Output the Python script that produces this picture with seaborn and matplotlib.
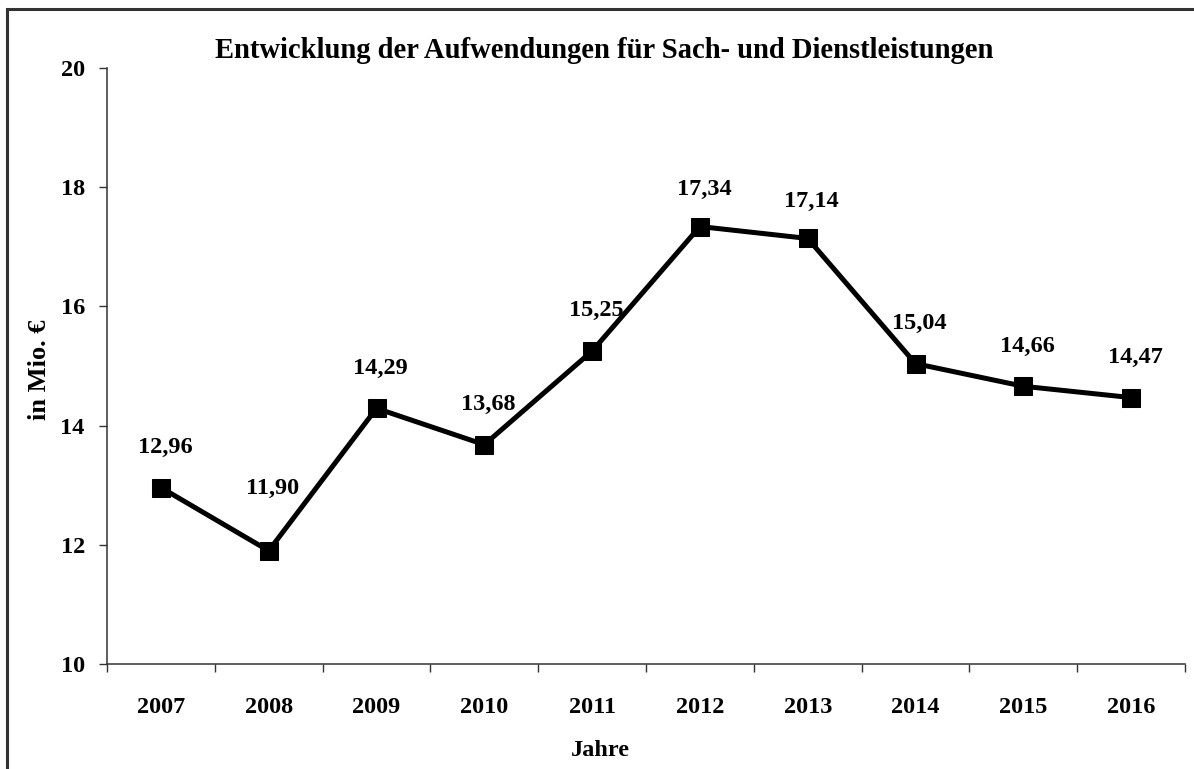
import numpy as np
import pandas as pd
import matplotlib
matplotlib.use("Agg")
import matplotlib.pyplot as plt
from matplotlib.patches import Rectangle
import seaborn as sns

sns.set_style("white")
plt.rcParams["font.family"] = ["Liberation Serif", "DejaVu Serif"]
plt.rcParams["font.weight"] = "bold"
plt.rcParams["text.color"] = "black"
plt.rcParams["xtick.color"] = "black"
plt.rcParams["ytick.color"] = "black"

# Daten
jahre = ["2007", "2008", "2009", "2010", "2011", "2012", "2013", "2014", "2015", "2016"]
werte = [12.96, 11.90, 14.29, 13.68, 15.25, 17.34, 17.14, 15.04, 14.66, 14.47]
label_dy = [29, 45, 29, 29, 29, 27, 27, 29, 29, 29]

df = pd.DataFrame({"pos": np.arange(len(jahre)), "Jahr": jahre, "Wert": werte})

fig = plt.figure(figsize=(11.94, 7.69), dpi=100)
ax = fig.add_axes([107 / 1194, 1 - 664 / 769, (1185 - 107) / 1194, (664 - 68) / 769])

sns.lineplot(data=df, x="pos", y="Wert", ax=ax, color="black", lw=3.6,
             marker="s", markersize=12.5, markeredgecolor="black")

for x, y, dy in zip(df["pos"], df["Wert"], label_dy):
    ax.annotate(f"{y:.2f}".replace(".", ","), (x, y), xytext=(3, dy),
                textcoords="offset points", ha="center", va="center",
                fontsize=17.5, fontweight="bold", color="black")

ax.set_xlim(-0.5, len(jahre) - 0.5)
ax.set_ylim(10, 20)
ax.set_yticks(np.arange(10, 21, 2))
ax.set_xticks(df["pos"])
ax.set_xticklabels(jahre)
ax.set_xticks(np.arange(-0.5, len(jahre), 1), minor=True)
ax.tick_params(axis="x", which="major", bottom=True, length=0, pad=24, labelsize=17.5)
ax.tick_params(axis="x", which="minor", bottom=True, length=6, width=1,
               color="#333333", direction="out")
ax.tick_params(axis="y", left=True, length=6, width=1, color="#333333", direction="out",
               pad=10, labelsize=17.5)
for lbl in ax.get_xticklabels() + ax.get_yticklabels():
    lbl.set_fontweight("bold")

for side in ["top", "right"]:
    ax.spines[side].set_visible(False)
for side in ["left", "bottom"]:
    ax.spines[side].set_color("#333333")
    ax.spines[side].set_linewidth(1.1)

ax.set_xlabel("")
ax.set_ylabel("")
fig.text(40 / 1194, 1 - 370 / 769, "in Mio. €", rotation=90, ha="center", va="center",
         fontsize=19, fontweight="bold")
fig.text(600 / 1194, 1 - 750 / 769, "Jahre", ha="center", va="center",
         fontsize=17.5, fontweight="bold")
fig.text(604 / 1194, 1 - 50 / 769, "Entwicklung der Aufwendungen für Sach- und Dienstleistungen",
         ha="center", va="center", fontsize=20.6, fontweight="bold")

# Rahmen
fig.add_artist(Rectangle((7 / 1194, -0.1), 1.5, 1 - 9 / 769 + 0.1, fill=False,
                         edgecolor="#333333", lw=2.2, transform=fig.transFigure))

fig.savefig("out.png", dpi=100)
